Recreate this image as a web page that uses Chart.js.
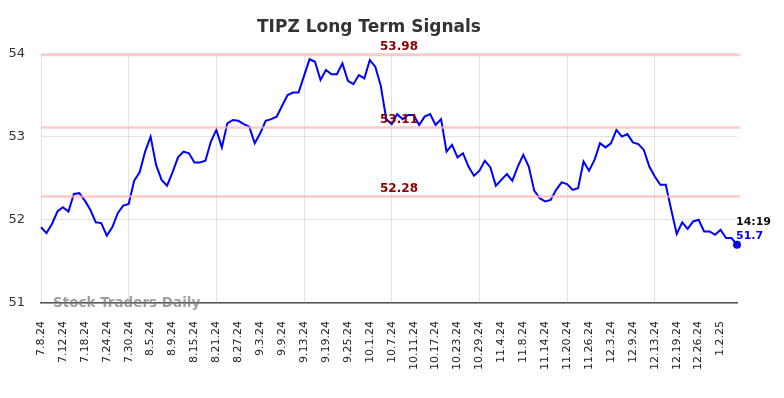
<!DOCTYPE html>
<html lang="en">
  <head>
    <meta charset="UTF-8" />
    <title>TIPZ Long Term Signals</title>
    <script src="https://cdn.jsdelivr.net/npm/chart.js"></script>
    <style>
      html, body {
        margin: 0;
        padding: 0;
        background: #fff;
      }
      #wrap {
        width: 784px;
        height: 398px;
      }
    </style>
  </head>
  <body>
    <div id="wrap"><canvas id="chart"></canvas></div>

    <script>
      // trading days, M.D.YY
      const dates = [
        "7.8.24", "7.9.24", "7.10.24", "7.11.24", "7.12.24", "7.15.24", "7.16.24", "7.17.24", "7.18.24", "7.19.24",
        "7.22.24", "7.23.24", "7.24.24", "7.25.24", "7.26.24", "7.29.24", "7.30.24", "7.31.24",
        "8.1.24", "8.2.24", "8.5.24", "8.6.24", "8.7.24", "8.8.24", "8.9.24", "8.12.24", "8.13.24", "8.14.24",
        "8.15.24", "8.16.24", "8.19.24", "8.20.24", "8.21.24", "8.22.24", "8.23.24", "8.26.24", "8.27.24",
        "8.28.24", "8.29.24", "8.30.24",
        "9.3.24", "9.4.24", "9.5.24", "9.6.24", "9.9.24", "9.10.24", "9.11.24", "9.12.24", "9.13.24", "9.16.24",
        "9.17.24", "9.18.24", "9.19.24", "9.20.24", "9.23.24", "9.24.24", "9.25.24", "9.26.24", "9.27.24", "9.30.24",
        "10.1.24", "10.2.24", "10.3.24", "10.4.24", "10.7.24", "10.8.24", "10.9.24", "10.10.24", "10.11.24",
        "10.14.24", "10.15.24", "10.16.24", "10.17.24", "10.18.24", "10.21.24", "10.22.24", "10.23.24",
        "10.24.24", "10.25.24", "10.28.24", "10.29.24", "10.30.24", "10.31.24",
        "11.1.24", "11.4.24", "11.5.24", "11.6.24", "11.7.24", "11.8.24", "11.11.24", "11.12.24", "11.13.24",
        "11.14.24", "11.15.24", "11.18.24", "11.19.24", "11.20.24", "11.21.24", "11.22.24", "11.25.24",
        "11.26.24", "11.27.24", "11.29.24",
        "12.2.24", "12.3.24", "12.4.24", "12.5.24", "12.6.24", "12.9.24", "12.10.24", "12.11.24", "12.12.24",
        "12.13.24", "12.16.24", "12.17.24", "12.18.24", "12.19.24", "12.20.24", "12.23.24", "12.24.24",
        "12.26.24", "12.27.24", "12.30.24", "12.31.24",
        "1.2.25", "1.3.25", "1.6.25", "1.7.25"
      ];

      const prices = [
        51.91, 51.84, 51.95, 52.10, 52.15, 52.10, 52.31, 52.32, 52.23, 52.12,
        51.97, 51.96, 51.81, 51.91, 52.08, 52.17, 52.19, 52.47, 52.57, 52.82,
        53.00, 52.66, 52.48, 52.41, 52.57, 52.75, 52.82, 52.80, 52.69, 52.69,
        52.71, 52.94, 53.08, 52.87, 53.16, 53.20, 53.19, 53.15, 53.12, 52.92,
        53.04, 53.19, 53.21, 53.24, 53.37, 53.50, 53.53, 53.53, 53.73, 53.93,
        53.90, 53.68, 53.80, 53.75, 53.75, 53.88, 53.67, 53.63, 53.74, 53.70,
        53.92, 53.84, 53.61, 53.21, 53.15, 53.27, 53.21, 53.26, 53.26, 53.14,
        53.24, 53.27, 53.14, 53.21, 52.82, 52.90, 52.75, 52.80, 52.64, 52.53,
        52.59, 52.71, 52.63, 52.41, 52.48, 52.55, 52.47, 52.64, 52.78, 52.64,
        52.35, 52.26, 52.22, 52.24, 52.36, 52.45, 52.43, 52.36, 52.38, 52.70,
        52.59, 52.72, 52.92, 52.87, 52.92, 53.08, 53.00, 53.03, 52.93, 52.91,
        52.84, 52.64, 52.52, 52.42, 52.42, 52.12, 51.83, 51.97, 51.89, 51.98,
        52.00, 51.86, 51.86, 51.82, 51.88, 51.78, 51.78, 51.70
      ];

      const signalLevels = [53.98, 53.11, 52.28];
      const yTicks = [51, 52, 53, 54];
      const lastTime = "14:19";

      const font = "DejaVu Sans";
      const labelEvery = 4;

      // signal lines, watermark and last-price tag
      const overlay = {
        id: "overlay",
        afterDatasetsDraw(chart) {
          const { ctx, chartArea, scales } = chart;
          const midX = (chartArea.left + chartArea.right) / 2 + 10;
          ctx.save();
          signalLevels.forEach((v) => {
            const y = scales.y.getPixelForValue(v);
            ctx.strokeStyle = "rgba(255, 180, 180, 0.7)";
            ctx.lineWidth = 2.5;
            ctx.beginPath();
            ctx.moveTo(chartArea.left, y);
            ctx.lineTo(chartArea.right + 3, y);
            ctx.stroke();
            ctx.fillStyle = "#8b0000";
            ctx.font = "bold 12px " + font;
            ctx.textAlign = "center";
            ctx.textBaseline = "bottom";
            ctx.fillText(v.toFixed(2), midX, y - 2);
          });

          ctx.fillStyle = "rgba(120, 120, 120, 0.7)";
          ctx.font = "bold 13.5px " + font;
          ctx.textAlign = "left";
          ctx.textBaseline = "middle";
          ctx.fillText("Stock Traders Daily", chartArea.left + 12, chartArea.bottom);

          const meta = chart.getDatasetMeta(0);
          const last = meta.data[meta.data.length - 1];
          ctx.fillStyle = "#0000ff";
          ctx.beginPath();
          ctx.arc(last.x, last.y, 4, 0, Math.PI * 2);
          ctx.fill();
          ctx.font = "bold 11px " + font;
          ctx.textAlign = "left";
          ctx.textBaseline = "middle";
          ctx.fillStyle = "#111";
          ctx.fillText(lastTime, last.x - 1, last.y - 23);
          ctx.fillStyle = "#0000ff";
          ctx.fillText(String(prices[prices.length - 1]), last.x - 1, last.y - 9);
          ctx.restore();
        },
      };

      new Chart(document.getElementById("chart"), {
        type: "line",
        data: {
          labels: dates,
          datasets: [
            {
              data: prices,
              borderColor: "#0000ff",
              borderWidth: 2,
              pointRadius: 0,
              tension: 0,
              fill: false,
            },
          ],
        },
        options: {
          responsive: true,
          maintainAspectRatio: false,
          animation: false,
          layout: { padding: { left: 1, right: 47, top: 0, bottom: 0 } },
          plugins: {
            legend: { display: false },
            tooltip: { enabled: false },
            title: {
              display: true,
              text: "TIPZ Long Term Signals",
              color: "#333",
              font: { family: font, size: 17, weight: "bold" },
              padding: { top: 17, bottom: 16 },
            },
          },
          scales: {
            x: {
              offset: false,
              border: { color: "#555", width: 1.5 },
              grid: {
                drawTicks: false,
                color: (c) => (c.index % labelEvery === 0 ? "#e3e3e3" : "transparent"),
              },
              ticks: {
                autoSkip: false,
                maxRotation: 90,
                minRotation: 90,
                padding: 18,
                color: "#222",
                font: { family: font, size: 11 },
                callback: (v, i) => (i % labelEvery === 0 ? dates[i] : null),
              },
              afterFit: (s) => {
                s.height = 95;
              },
            },
            y: {
              min: 51,
              max: 54,
              border: { display: false },
              grid: { drawTicks: false, color: "#e3e3e3" },
              afterBuildTicks: (s) => {
                s.ticks = yTicks.map((v) => ({ value: v }));
              },
              ticks: {
                padding: 16,
                color: "#333",
                font: { family: font, size: 13 },
              },
              afterFit: (s) => {
                s.width = 40;
              },
            },
          },
        },
        plugins: [overlay],
      });
    </script>
  </body>
</html>
